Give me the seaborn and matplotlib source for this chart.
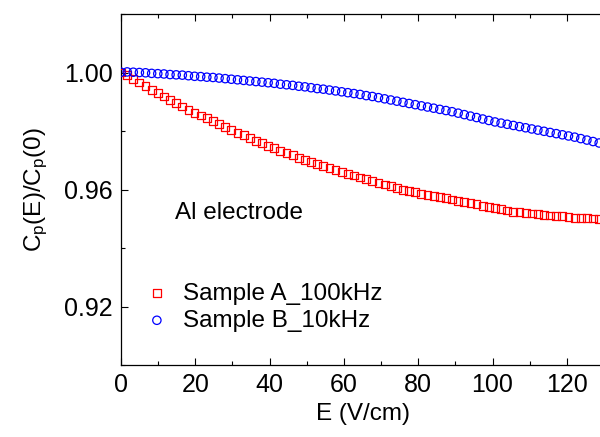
import matplotlib
matplotlib.use("Agg")
import matplotlib.pyplot as plt
import seaborn as sns
import pandas as pd
from matplotlib.ticker import MultipleLocator

E = [0, 1.65, 3.3, 4.95, 6.6, 8.25, 9.9, 11.55, 13.2, 14.85, 16.5, 18.15, 19.8, 21.45,
     23.1, 24.75, 26.4, 28.05, 29.7, 31.35, 33.0, 34.65, 36.3, 37.95, 39.6, 41.25, 42.9,
     44.55, 46.2, 47.85, 49.5, 51.15, 52.8, 54.45, 56.1, 57.75, 59.4, 61.05, 62.7, 64.35,
     66.0, 67.65, 69.3, 70.95, 72.6, 74.25, 75.9, 77.55, 79.2, 80.85, 82.5, 84.15, 85.8,
     87.45, 89.1, 90.75, 92.4, 94.05, 95.7, 97.35, 99.0, 100.65, 102.3, 103.95, 105.6,
     107.25, 108.9, 110.55, 112.2, 113.85, 115.5, 117.15, 118.8, 120.45, 122.1, 123.75,
     125.4, 127.05, 128.7]

sample_a = [1.0000, 0.9990, 0.9978, 0.9966, 0.9953, 0.9941, 0.9929, 0.9918, 0.9906, 0.9895,
            0.9884, 0.9873, 0.9863, 0.9853, 0.9843, 0.9833, 0.9823, 0.9813, 0.9803, 0.9794,
            0.9785, 0.9776, 0.9767, 0.9758, 0.9749, 0.9741, 0.9733, 0.9725, 0.9717, 0.9709,
            0.9702, 0.9695, 0.9688, 0.9681, 0.9674, 0.9667, 0.9661, 0.9654, 0.9648, 0.9641,
            0.9635, 0.9629, 0.9623, 0.9617, 0.9611, 0.9605, 0.9599, 0.9595, 0.9590, 0.9586,
            0.9582, 0.9578, 0.9574, 0.9570, 0.9566, 0.9562, 0.9557, 0.9553, 0.9549, 0.9545,
            0.9541, 0.9536, 0.9532, 0.9528, 0.9524, 0.9522, 0.9520, 0.9518, 0.9517, 0.9514,
            0.9511, 0.9509, 0.9508, 0.9507, 0.9504, 0.9502, 0.9502, 0.9501, 0.9500]

sample_b = [1.0001, 1.0002, 1.0001, 1.0000, 0.9999, 0.9997, 0.9996, 0.9995, 0.9993, 0.9992,
            0.9991, 0.9989, 0.9987, 0.9986, 0.9984, 0.9983, 0.9981, 0.9979, 0.9977, 0.9975,
            0.9973, 0.9971, 0.9969, 0.9967, 0.9965, 0.9963, 0.9960, 0.9958, 0.9956, 0.9953,
            0.9951, 0.9948, 0.9945, 0.9943, 0.9940, 0.9937, 0.9934, 0.9931, 0.9928, 0.9925,
            0.9921, 0.9918, 0.9914, 0.9910, 0.9906, 0.9902, 0.9898, 0.9894, 0.9890, 0.9886,
            0.9882, 0.9878, 0.9874, 0.9870, 0.9866, 0.9861, 0.9856, 0.9851, 0.9846, 0.9841,
            0.9836, 0.9831, 0.9827, 0.9823, 0.9819, 0.9815, 0.9811, 0.9807, 0.9803, 0.9799,
            0.9795, 0.9791, 0.9787, 0.9783, 0.9779, 0.9774, 0.9769, 0.9764, 0.9759]

labels = ["Sample A_100kHz", "Sample B_10kHz"]
annotation = "Al electrode"

sns.set_theme(style="ticks")
plt.rcParams["font.family"] = ["Liberation Sans", "DejaVu Sans"]
plt.rcParams["mathtext.fontset"] = "custom"
plt.rcParams["mathtext.rm"] = "Liberation Sans"
plt.rcParams["mathtext.it"] = "Liberation Sans:italic"
plt.rcParams["text.color"] = "black"
plt.rcParams["axes.labelcolor"] = "black"
plt.rcParams["xtick.color"] = "black"
plt.rcParams["ytick.color"] = "black"

fig = plt.figure(figsize=(6.0, 4.37), dpi=100)
ax = fig.add_axes([121 / 600, 72 / 437, 483 / 600, 351 / 437])

df_a = pd.DataFrame({"E": E, "C": sample_a})
df_b = pd.DataFrame({"E": E, "C": sample_b})

sns.scatterplot(data=df_a, x="E", y="C", marker="s", s=32, facecolors="none",
                edgecolor="#FF0000", linewidth=0.9, label=labels[0], ax=ax, zorder=3)
sns.scatterplot(data=df_b, x="E", y="C", marker="o", s=36, facecolors="none",
                edgecolor="#0000FF", linewidth=0.9, label=labels[1], ax=ax, zorder=3)

ax.set_xlim(0, 130)
ax.set_ylim(0.90, 1.02)
ax.xaxis.set_major_locator(MultipleLocator(20))
ax.xaxis.set_minor_locator(MultipleLocator(10))
ax.yaxis.set_major_locator(MultipleLocator(0.04))
ax.yaxis.set_minor_locator(MultipleLocator(0.02))
ax.yaxis.set_major_formatter(matplotlib.ticker.FormatStrFormatter("%.2f"))

ax.tick_params(which="both", direction="in", top=True, right=False, labelsize=18,
               colors="black", labelcolor="black", width=0.8)
ax.tick_params(which="major", length=5, pad=6)
ax.tick_params(which="minor", length=3)
for side in ["left", "bottom", "top"]:
    ax.spines[side].set_visible(True)
    ax.spines[side].set_linewidth(0.9)
    ax.spines[side].set_color("black")
ax.spines["right"].set_visible(False)

ax.set_xlabel("E (V/cm)", fontsize=17.5, labelpad=4, color="black")
ax.set_ylabel(r"C$_\mathrm{p}$(E)/C$_\mathrm{p}$(0)", fontsize=17.5, labelpad=10,
              color="black")

ax.text(14.5, 0.952, annotation, fontsize=17.5, va="center", ha="left", color="black")

leg = ax.legend(loc="upper left", bbox_to_anchor=(0.029, 0.262), frameon=False,
                fontsize=17.5, handletextpad=0.57, borderaxespad=0, labelspacing=0.2,
                handlelength=1.0, labelcolor="black")

fig.savefig("out.png", dpi=100)
